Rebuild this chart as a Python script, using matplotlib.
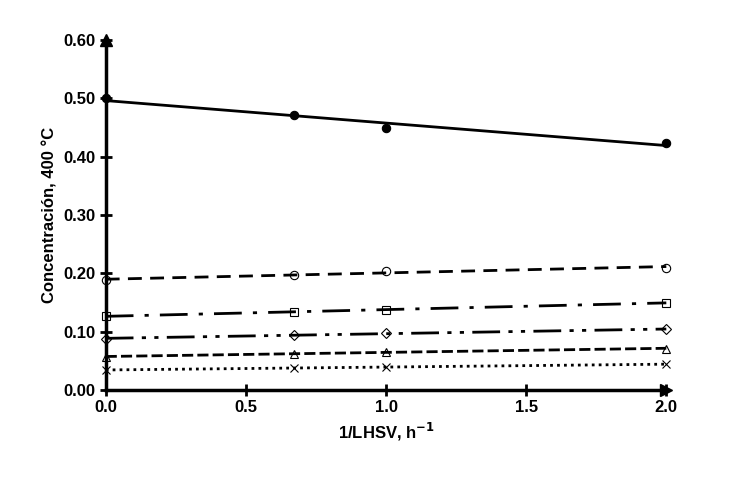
import numpy as np
import matplotlib.pyplot as plt

plt.rcParams['font.family'] = ['Liberation Sans', 'DejaVu Sans']
plt.rcParams['mathtext.default'] = 'bf'

x = np.array([0.0, 0.67, 1.0, 2.0])
filled = [0.500, 0.471, 0.450, 0.423]
circulos = [0.188, 0.198, 0.204, 0.210]
cuadros = [0.127, 0.134, 0.137, 0.150]
rombos = [0.088, 0.094, 0.098, 0.104]
triangulos = [0.057, 0.062, 0.066, 0.071]
cruces = [0.034, 0.038, 0.040, 0.044]

series = [
    (filled, 'o', 'full', '-'),
    (circulos, 'o', 'none', (0, (5, 3))),
    (cuadros, 's', 'none', (0, (10, 4, 1.5, 4))),
    (rombos, 'D', 'none', (0, (10, 3, 1.5, 3, 1.5, 3))),
    (triangulos, '^', 'none', (0, (4, 1.5))),
    (cruces, 'x', 'none', (0, (1, 1.5))),
]

fig = plt.figure(figsize=(7.29, 4.78), dpi=100)
ax = fig.add_axes([0.145, 0.184, 0.769, 0.732])

xl = np.array([0.0, 2.0])
for y, m, fill, ls in series:
    k, b = np.polyfit(x, y, 1)
    ax.plot(xl, k * xl + b, color='black', linestyle=ls, linewidth=2, clip_on=False)
    ax.plot(x, y, linestyle='none', marker=m, color='black', fillstyle=fill,
            markerfacecolor='black' if fill == 'full' else 'white',
            markersize=5 if m == 'D' else 6, markeredgewidth=0.8, clip_on=False, zorder=3)

ax.set_xlim(0, 2.0)
ax.set_ylim(0, 0.60)
ax.set_xticks(np.arange(0, 2.01, 0.5))
ax.set_yticks(np.arange(0, 0.601, 0.1))
ax.set_xticklabels([f'{v:.1f}' for v in np.arange(0, 2.01, 0.5)], fontweight='bold')
ax.set_yticklabels([f'{v:.2f}' for v in np.arange(0, 0.601, 0.1)], fontweight='bold')
ax.tick_params(direction='inout', length=8, width=2, labelsize=12)
for s in ['top', 'right']:
    ax.spines[s].set_visible(False)
for s in ['left', 'bottom']:
    ax.spines[s].set_linewidth(2.5)
ax.plot(1, 0, '>k', markersize=9, transform=ax.transAxes, clip_on=False)
ax.plot(0, 1, '^k', markersize=9, transform=ax.transAxes, clip_on=False)

ax.set_xlabel('1/LHSV, h$^{-1}$', fontsize=12, fontweight='bold')
ax.set_ylabel('Concentración, 400 °C', fontsize=12, fontweight='bold')

fig.savefig('out.png', dpi=100)
